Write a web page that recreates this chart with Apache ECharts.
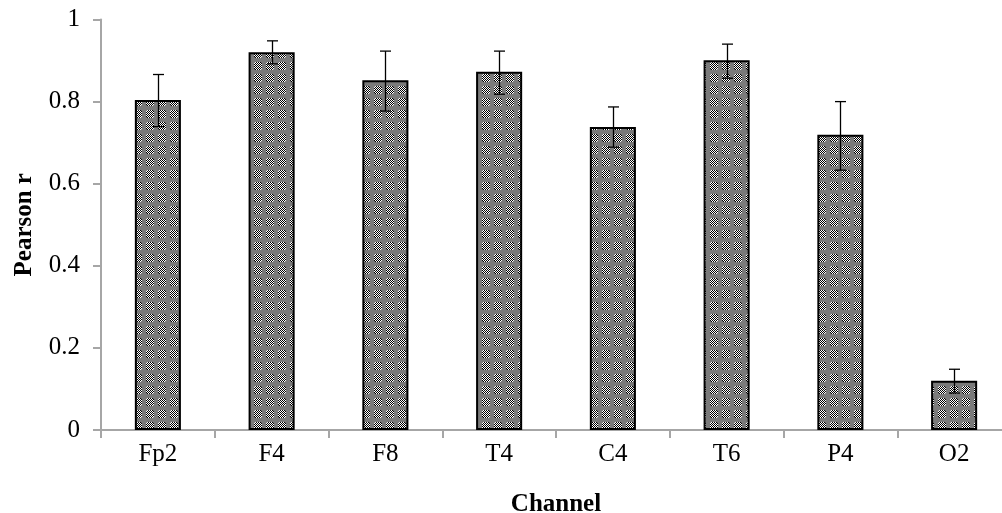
<!DOCTYPE html>
<html>
<head>
<meta charset="utf-8">
<script src="https://cdn.jsdelivr.net/npm/echarts@6/dist/echarts.min.js"></script>
<style>
html,body{margin:0;padding:0;background:#fff;}
#chart{width:1002px;height:513px;}
</style>
</head>
<body>
<div id="chart"></div>
<script>
const categories = ['Fp2','F4','F8','T4','C4','T6','P4','O2'];
const values = [0.804, 0.920, 0.852, 0.873, 0.738, 0.901, 0.719, 0.120];
const errUpper = [0.866, 0.948, 0.923, 0.923, 0.787, 0.940, 0.800, 0.148];
const errLower = [0.739, 0.892, 0.777, 0.818, 0.689, 0.857, 0.633, 0.090];
const yTicks = [0, 0.2, 0.4, 0.6, 0.8, 1];

// bar fill pattern (checker dots on gray)
const pat = document.createElement('canvas');
pat.width = 12; pat.height = 12;
const pc = pat.getContext('2d');
pc.fillStyle = '#7a7a7a';
pc.fillRect(0,0,12,12);
for (let y = 0; y < 12; y++) {
  for (let x = 0; x < 12; x++) {
    const dx = x + 0.5 - 6, dy = y + 0.5 - 6;
    if (dx*dx + dy*dy <= 20) {
      pc.fillStyle = ((x + y) % 2 === 0) ? '#000000' : '#ffffff';
      pc.fillRect(x, y, 1, 1);
    }
  }
}

const errData = categories.map((c, i) => [i, errLower[i], errUpper[i]]);

const chart = echarts.init(document.getElementById('chart'), null, {renderer: 'canvas'});
const font = '"Liberation Serif", "Times New Roman", serif';
chart.setOption({
  animation: false,
  backgroundColor: '#ffffff',
  grid: {left: 101, right: -9, top: 19.5, bottom: 83, containLabel: false, outerBoundsMode: 'none'},
  xAxis: {
    type: 'category',
    data: categories,
    name: 'Channel',
    nameLocation: 'middle',
    nameGap: 62,
    nameTextStyle: {fontFamily: font, fontSize: 25, fontWeight: 'bold', color: '#000'},
    axisLine: {lineStyle: {color: '#a6a6a6', width: 2}},
    axisTick: {show: true, length: 8, inside: false, lineStyle: {color: '#a6a6a6', width: 2}},
    axisLabel: {fontFamily: font, fontSize: 25, color: '#000', margin: 12},
    splitLine: {show: false}
  },
  yAxis: {
    type: 'value',
    min: 0, max: 1, interval: 0.2,
    name: 'Pearson r',
    nameLocation: 'middle',
    nameGap: 64,
    nameRotate: 90,
    nameTextStyle: {fontFamily: font, fontSize: 25, fontWeight: 'bold', color: '#000'},
    axisLine: {show: true, lineStyle: {color: '#a6a6a6', width: 2}},
    axisTick: {show: true, length: 8, lineStyle: {color: '#a6a6a6', width: 2}},
    axisLabel: {
      fontFamily: font, fontSize: 25, color: '#000', margin: 21,
      formatter: function (v) {
        const t = yTicks.find(x => Math.abs(x - v) < 1e-9);
        return t === undefined ? '' : String(t);
      }
    },
    splitLine: {show: false}
  },
  series: [
    {
      type: 'bar',
      data: values,
      barWidth: '40.5%',
      itemStyle: {color: {image: pat, repeat: 'repeat'}, borderColor: '#000', borderWidth: 2}
    },
    {
      type: 'custom',
      data: errData,
      z: 10,
      renderItem: function (params, api) {
        const i = api.value(0);
        const lo = api.coord([i, api.value(1)]);
        const hi = api.coord([i, api.value(2)]);
        const x = Math.round(lo[0]) + 0.5;
        const hw = 5.5;
        const st = {stroke: '#000', lineWidth: 1.3};
        return {
          type: 'group',
          children: [
            {type: 'line', shape: {x1: x, y1: hi[1], x2: x, y2: lo[1]}, style: st},
            {type: 'line', shape: {x1: x - hw, y1: hi[1], x2: x + hw, y2: hi[1]}, style: st},
            {type: 'line', shape: {x1: x - hw, y1: lo[1], x2: x + hw, y2: lo[1]}, style: st}
          ]
        };
      }
    }
  ]
});
</script>
</body>
</html>
